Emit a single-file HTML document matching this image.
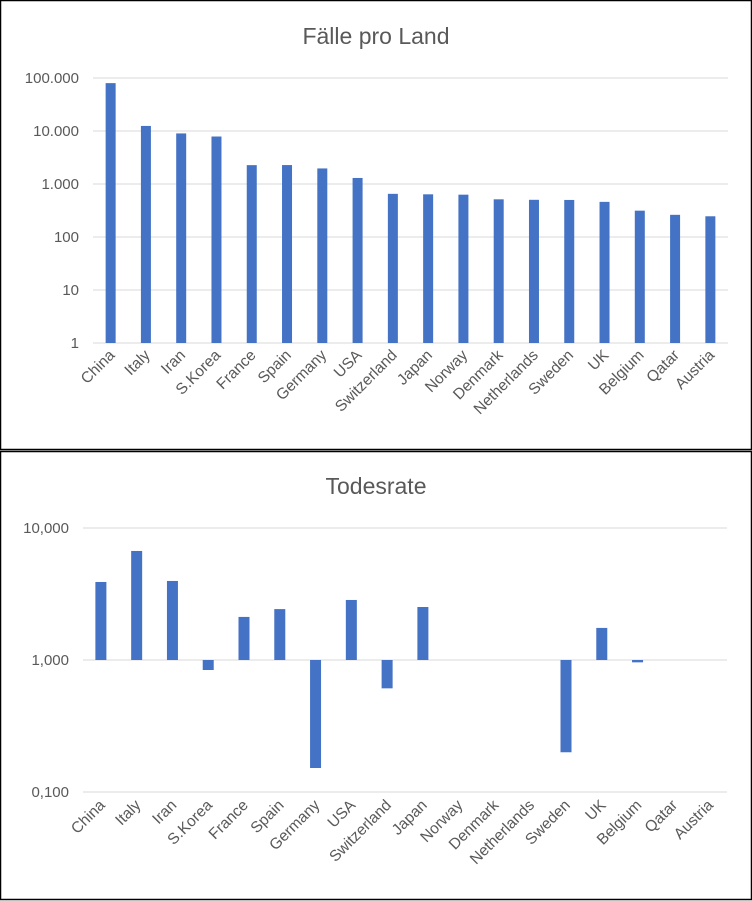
<!DOCTYPE html>
<html><head><meta charset="utf-8"><style>
body{margin:0;background:#fff;font-family:"Liberation Sans",Arial,sans-serif;}
svg{display:block}
</style></head><body>
<svg width="752" height="901" xmlns="http://www.w3.org/2000/svg">
<rect x="0.5" y="0.5" width="751" height="449" fill="#fff" stroke="#000" stroke-width="1.5"/>
<rect x="0.5" y="451.5" width="751" height="448" fill="#fff" stroke="#000" stroke-width="1.5"/>
<text x="376" y="44" text-anchor="middle" font-size="23" fill="#595959">Fälle pro Land</text>
<text x="376" y="494" text-anchor="middle" font-size="23" fill="#595959">Todesrate</text>
<g id="c1"></g><g id="c2"></g>
</svg>
<script>
const categories=["China","Italy","Iran","S.Korea","France","Spain","Germany","USA","Switzerland","Japan","Norway","Denmark","Netherlands","Sweden","UK","Belgium","Qatar","Austria"];
const cases=[80000,12462,9000,7869,2269,2277,1966,1300,652,639,629,514,503,500,460,314,262,246];
const deathRate=[3.9,6.7,3.97,0.84,2.12,2.43,0.152,2.85,0.61,2.52,1,1,1,0.2,1.75,0.96,1,1];
const ticks1=["1","10","100","1.000","10.000","100.000"];
const ticks2=["0,100","1,000","10,000"];
const NS="http://www.w3.org/2000/svg";
function mk(p,t,a){const e=document.createElementNS(NS,t);for(const k in a)e.setAttribute(k,a[k]);p.appendChild(e);return e;}
function draw(g,cfg){
  const {left,right,y0,pxDec,minExp,ticks,vals,labelY,barW,base}=cfg;
  const n=categories.length,step=(right-left)/n;
  const y=v=>y0-(Math.log10(v)-minExp)*pxDec;
  const x=i=>left+step*(i+0.5);
  ticks.forEach((t,i)=>{
    const yy=y0-i*pxDec;
    const l=mk(g,"line",{x1:left,x2:right,y1:yy,y2:yy,stroke:"#d9d9d9","stroke-width":1});
    
    
    const tx=mk(g,"text",{x:left-14,y:yy+5,"text-anchor":"end","font-size":15,fill:"#595959"});
    tx.textContent=t;
    
    
  });
  const by=y(base);
  vals.forEach((v,i)=>{
    const yv=y(v);
    if(Math.abs(yv-by)<0.5)return;
    const r=mk(g,"rect",{x:x(i)-barW/2,y:Math.min(yv,by),width:barW,height:Math.abs(yv-by),fill:"#4472c4"});
    
    
  });
  categories.forEach((c,i)=>{
    const tx=mk(g,"text",{x:0,y:0,"text-anchor":"end","font-size":15.5,fill:"#595959",transform:`translate(${x(i)+5},${labelY}) rotate(-45)`});
    tx.textContent=c;
    
    
  });
}
draw(document.getElementById("c1"),{left:93,right:728,y0:343,pxDec:53,minExp:0,ticks:ticks1,vals:cases,labelY:356,barW:10,base:1});
draw(document.getElementById("c2"),{left:83,right:727,y0:792,pxDec:132,minExp:-1,ticks:ticks2,vals:deathRate,labelY:806,barW:11,base:1});
</script>
</body></html>
